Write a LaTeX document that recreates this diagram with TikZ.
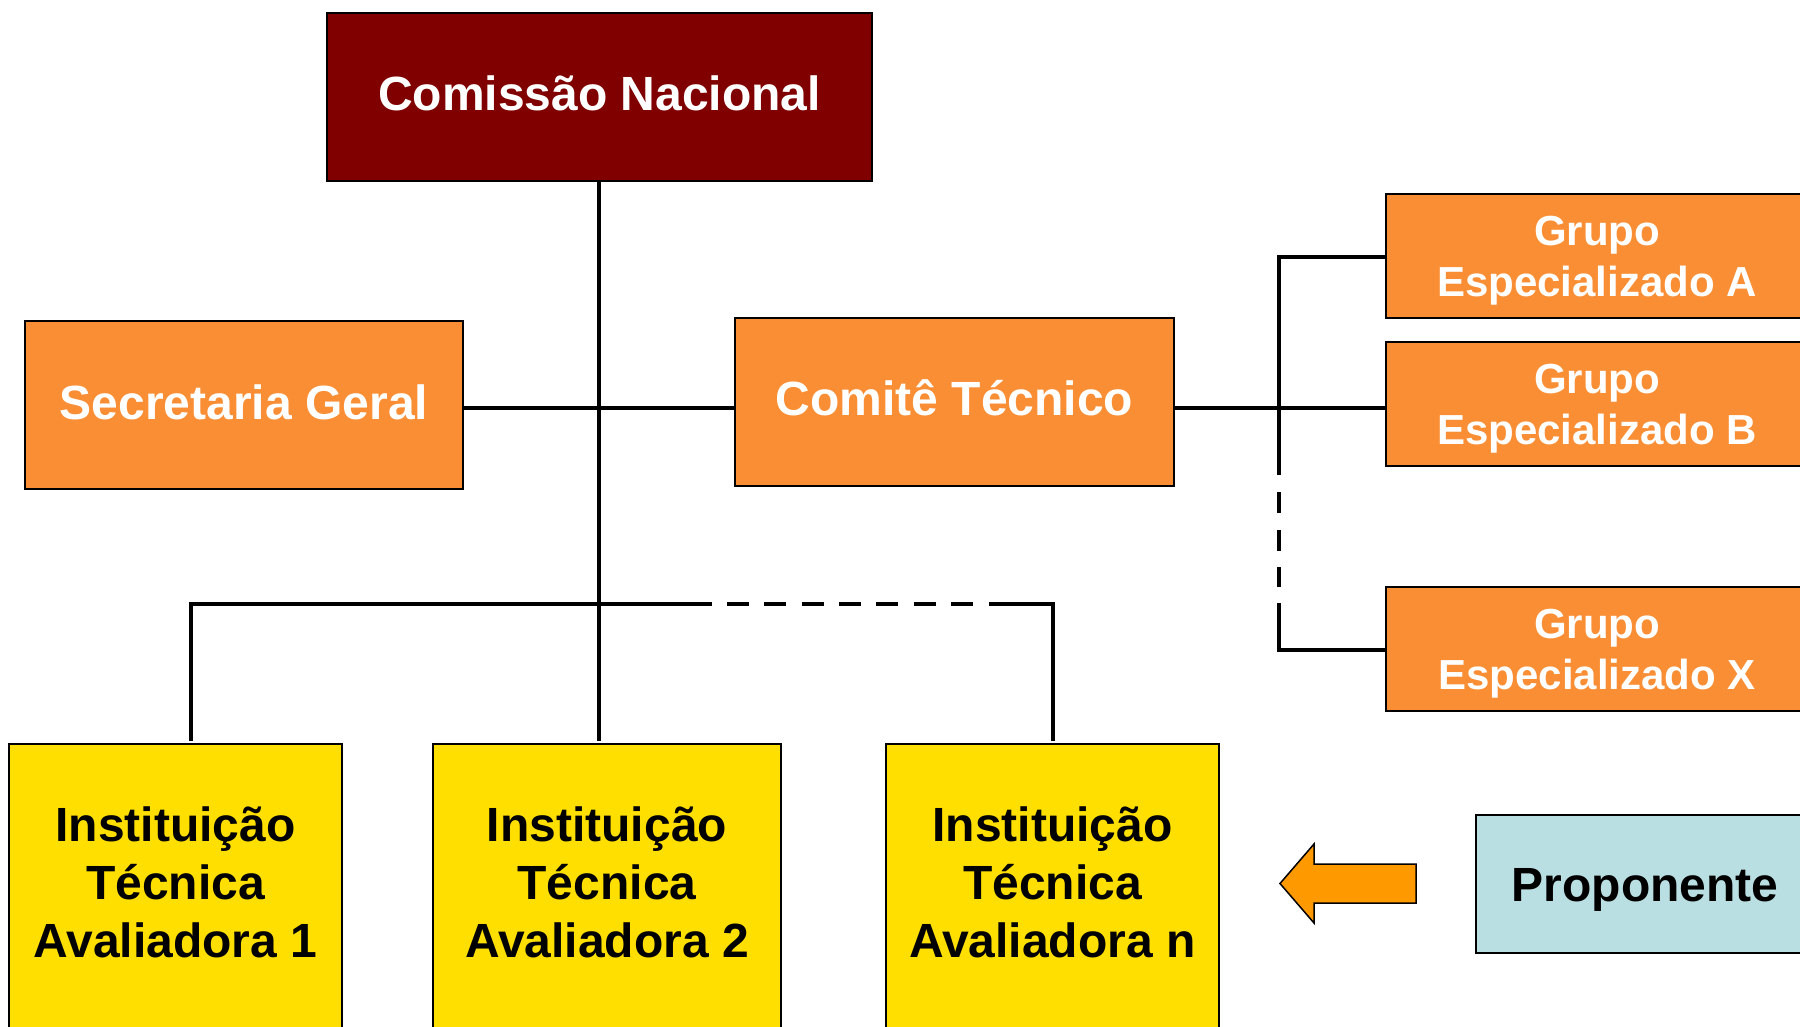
\documentclass[tikz,border=0pt]{standalone}
\usepackage{fontspec}
\setmainfont{Liberation Sans}
\begin{document}
\begin{tikzpicture}[x=1pt,y=-1pt,
  box/.style={draw=black,line width=2pt,rectangle,inner sep=0pt},
  txt/.style={inner sep=0pt,align=center,font=\bfseries\fontsize{48}{58}\selectfont},
  gtxt/.style={inner sep=0pt,align=center,font=\bfseries\fontsize{42}{51}\selectfont},
  redbox/.style={box,fill=red!50!black},
  orangebox/.style={box,fill=orgcol},
  yelbox/.style={box,fill=yelcol},
  bluebox/.style={box,fill=bluecol},
  link/.style={line width=4.5pt,line cap=butt},
  vdash/.style={line width=4.5pt,dash pattern=on 21pt off 16.5pt},
  hdash/.style={line width=4.5pt,dash pattern=on 22pt off 15.3pt}
]
\definecolor{orgcol}{HTML}{FA8E34}
\definecolor{yelcol}{HTML}{FFDF00}
\definecolor{bluecol}{HTML}{BADFE2}
\definecolor{arrcol}{HTML}{FF9900}
\useasboundingbox (0,0) rectangle (1800,1026);

\node[redbox,minimum width=545pt,minimum height=168pt,
  label={[txt,text=white,yshift=4pt]center:Comissão Nacional}] (com) at (599.5,97) {};
\node[orangebox,minimum width=438pt,minimum height=168pt,
  label={[txt,text=white,yshift=3pt]center:Secretaria Geral}] (sec) at (244,405) {};
\node[orangebox,minimum width=439pt,minimum height=168pt,
  label={[txt,text=white,yshift=4.5pt]center:Comitê Técnico}] (cmt) at (954.5,402) {};
\node[orangebox,minimum width=422pt,minimum height=124pt,
  label={[gtxt,text=white,yshift=-5pt]center:{Grupo\\Especializado A}}] (ga) at (1597,256) {};
\node[orangebox,minimum width=422pt,minimum height=124pt,
  label={[gtxt,text=white,yshift=-5pt]center:{Grupo\\Especializado B}}] (gb) at (1597,404) {};
\node[orangebox,minimum width=422pt,minimum height=124pt,
  label={[gtxt,text=white,yshift=-5pt]center:{Grupo\\Especializado X}}] (gx) at (1597,649) {};
\node[yelbox,minimum width=333pt,minimum height=286pt,
  label={[txt,yshift=5pt]center:{Instituição\\Técnica\\Avaliadora 1}}] (i1) at (175.5,887) {};
\node[yelbox,minimum width=348pt,minimum height=286pt,
  label={[txt,yshift=5pt]center:{Instituição\\Técnica\\Avaliadora 2}}] (i2) at (607,887) {};
\node[yelbox,minimum width=333pt,minimum height=286pt,
  label={[txt,yshift=5pt]center:{Instituição\\Técnica\\Avaliadora n}}] (i3) at (1052.5,887) {};
\node[bluebox,minimum width=338pt,minimum height=138pt,
  label={[txt,yshift=-6pt]center:Proponente}] (prop) at (1645,883.5) {};

% connector points
\coordinate (trunkb) at (599,741);
\coordinate (busl) at (191,604);
\coordinate (busr) at (1053,604);
\coordinate (busd1) at (712,604);
\coordinate (busd2) at (727,604);
\coordinate (busd3) at (973,604);
\coordinate (busd4) at (989,604);
\coordinate (brt) at (1279,257);
\coordinate (brm) at (1279,408);
\coordinate (brs) at (1279,475);
\coordinate (brd1) at (1279,492);
\coordinate (brd2) at (1279,587);
\coordinate (brs2) at (1279,603);
\coordinate (brb) at (1279,650);

% trunk
\draw[link] (com.south -| trunkb) -- (trunkb);
% secretaria - comite
\draw[link] (sec.east |- brm) -- (cmt.west |- brm);
% bus
\draw[link] ([xshift=-2.25pt]busl) -- (busd1);
\draw[hdash] (busd2) -- (busd3);
\draw[link] (busd4) -- ([xshift=2.25pt]busr);
\draw[link] (busl) -- (busl |- trunkb);
\draw[link] (busr) -- (busr |- trunkb);
% comite - grupos
\draw[link] (cmt.east |- brm) -- (gb.west |- brm);
\draw[link,line join=miter] (ga.west |- brt) -- (brt) -- (brs);
\draw[vdash] (brd1) -- (brd2);
\draw[link,line join=miter] (brs2) -- (brb) -- (gx.west |- brb);

% arrow
\draw[fill=arrcol,line width=1.5pt,line join=miter] (1416,864) -- (1314,864) -- (1314,844) -- (1280,883.5) -- (1314,923) -- (1314,903) -- (1416,903) -- cycle;
\end{tikzpicture}
\end{document}
